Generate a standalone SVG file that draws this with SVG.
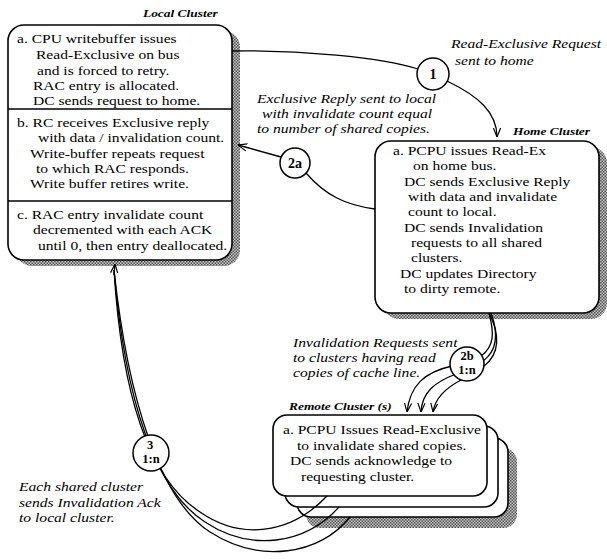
<svg xmlns="http://www.w3.org/2000/svg" width="607" height="559" viewBox="0 0 607 559">
<defs>
<pattern id="hatch" width="3" height="3" patternUnits="userSpaceOnUse">
<rect width="3" height="3" fill="#c4c4c4"/>
<rect width="1.5" height="1.5" fill="#555"/>
<rect x="1.5" y="1.5" width="1.5" height="1.5" fill="#555"/>
</pattern>
<marker id="arr" viewBox="0 0 10 10" refX="10" refY="5" markerWidth="9" markerHeight="9" orient="auto" markerUnits="userSpaceOnUse">
<path d="M0,1 L10,5 L0,9" fill="none" stroke="#000" stroke-width="1.3"/>
</marker>
</defs>
<style>
.box{fill:#fff;stroke:#000;stroke-width:1.6}
.shadow{fill:url(#hatch);stroke:none}
.body{font-family:"Liberation Serif","Times New Roman",serif;font-size:13.2px;fill:#000}
.lbl{font-family:"Liberation Serif","Times New Roman",serif;font-size:13px;font-style:italic;fill:#000}
.title{font-family:"Liberation Serif","Times New Roman",serif;font-size:11px;font-style:italic;font-weight:bold;fill:#000}
.num{font-family:"Liberation Serif","Times New Roman",serif;font-size:14px;font-weight:bold;fill:#000;text-anchor:middle}
.num2{font-family:"Liberation Serif","Times New Roman",serif;font-size:12.5px;font-weight:bold;fill:#000;text-anchor:middle}
.ln{fill:none;stroke:#000;stroke-width:1.3}
.circ{fill:#fff;stroke:#000;stroke-width:1.5}
</style>

<g id="local-cluster">
<rect class="shadow" x="16" y="31" width="224" height="235" rx="16"/>
<rect class="box" x="8" y="25" width="224" height="235" rx="16"/>
<line x1="8" y1="109" x2="232" y2="109" stroke="#000" stroke-width="1.3"/>
<line x1="8" y1="201" x2="232" y2="201" stroke="#000" stroke-width="1.3"/>
<g transform="scale(1.22,1)"><text class="title" x="117.21" y="17">Local Cluster</text></g>
<g transform="scale(1.18,1)">
<text class="body" x="14.41" y="43">a. CPU writebuffer issues</text>
<text class="body" x="30.51" y="59">Read-Exclusive on bus</text>
<text class="body" x="31.36" y="75">and is forced to retry.</text>
<text class="body" x="27.97" y="90">RAC entry is allocated.</text>
<text class="body" x="27.97" y="105">DC sends request to home.</text>
<text class="body" x="14.41" y="127">b. RC receives Exclusive reply</text>
<text class="body" x="32.20" y="142">with data / invalidation count.</text>
<text class="body" x="25.42" y="158">Write-buffer repeats request</text>
<text class="body" x="30.51" y="173">to which RAC responds.</text>
<text class="body" x="25.42" y="188">Write buffer retires write.</text>
<text class="body" x="14.41" y="219">c. RAC entry invalidate count</text>
<text class="body" x="27.97" y="234">decremented with each ACK</text>
<text class="body" x="32.20" y="250">until 0, then entry deallocated.</text>
</g>
</g>

<g id="home-cluster">
<rect class="shadow" x="383" y="147" width="224" height="172" rx="16"/>
<rect class="box" x="375" y="141" width="224" height="172" rx="16"/>
<g transform="scale(1.22,1)"><text class="title" x="420.49" y="135">Home Cluster</text></g>
<g transform="scale(1.18,1)">
<text class="body" x="333.05" y="155">a. PCPU issues Read-Ex</text>
<text class="body" x="350.00" y="170">on home bus.</text>
<text class="body" x="342.37" y="186">DC sends Exclusive Reply</text>
<text class="body" x="345.76" y="201">with data and invalidate</text>
<text class="body" x="345.76" y="216">count to local.</text>
<text class="body" x="342.37" y="232">DC sends Invalidation</text>
<text class="body" x="348.31" y="247">requests to all shared</text>
<text class="body" x="348.31" y="262">clusters.</text>
<text class="body" x="338.98" y="278">DC updates Directory</text>
<text class="body" x="342.37" y="293">to dirty remote.</text>
</g>
</g>

<g id="remote-cluster">
<rect class="shadow" x="306" y="448" width="211" height="80" rx="14"/>
<rect class="box" x="297" y="438" width="211" height="79" rx="14"/>
<rect class="box" x="285" y="426" width="213" height="81" rx="14"/>
<rect class="box" x="273" y="415" width="214" height="81" rx="14"/>
<g transform="scale(1.22,1)"><text class="title" x="236.89" y="410">Remote Cluster (s)</text></g>
<g transform="scale(1.18,1)">
<text class="body" x="239.83" y="434">a. PCPU Issues Read-Exclusive</text>
<text class="body" x="251.69" y="450">to invalidate shared copies.</text>
<text class="body" x="245.76" y="465">DC sends acknowledge to</text>
<text class="body" x="255.08" y="481">requesting cluster.</text>
</g>
</g>

<g id="connectors">
<path class="ln" d="M232,51 C300,50 380,57 418,69"/>
<path class="ln" d="M447,81 C478,96 497,112 497,137" marker-end="url(#arr)"/>
<path class="ln" d="M281,157 L238,145" marker-end="url(#arr)"/>
<path class="ln" d="M306,173 C325,195 345,205 375,209"/>
<path class="ln" d="M489,313 C494,332 495,346 481,356"/>
<path class="ln" d="M491,313 C498,332 498,350 483,361"/>
<path class="ln" d="M489,313 C500,334 500,354 484,366"/>
<path class="ln" d="M452,366 C425,372 410,385 407,412" marker-end="url(#arr)"/>
<path class="ln" d="M456,374 C435,382 422,392 421,412" marker-end="url(#arr)"/>
<path class="ln" d="M463,379 C445,388 435,398 433,412" marker-end="url(#arr)"/>
<path class="ln" d="M114,270 C122,400 150,480 200,512 C240,540 290,535 327,496"/>
<path class="ln" d="M114,270 C125,400 155,490 205,522 C250,552 305,545 339,507"/>
<path class="ln" d="M114,270 C128,400 160,500 210,532 C260,564 320,555 350,517"/>
<path class="ln" d="M114,275 L115,264" marker-end="url(#arr)"/>
</g>

<g id="step-1">
<circle class="circ" cx="433" cy="74" r="16"/>
<text class="num" x="433" y="79">1</text>
<g transform="scale(1.2,1)">
<text class="lbl" x="375.83" y="48">Read-Exclusive Request</text>
<text class="lbl" x="379.17" y="65">sent to home</text>
</g>
</g>

<g id="step-2a">
<circle class="circ" cx="295" cy="163" r="15"/>
<text class="num" x="295" y="168">2a</text>
<g transform="scale(1.2,1)">
<text class="lbl" x="214.17" y="103">Exclusive Reply sent to local</text>
<text class="lbl" x="218.33" y="118">with invalidate count equal</text>
<text class="lbl" x="214.17" y="133">to number of shared copies.</text>
</g>
</g>

<g id="step-2b">
<circle class="circ" cx="467" cy="364" r="17"/>
<text class="num2" x="467" y="360">2b</text>
<text class="num2" x="467" y="374">1:n</text>
<g transform="scale(1.2,1)">
<text class="lbl" x="244.17" y="347">Invalidation Requests sent</text>
<text class="lbl" x="244.17" y="362">to clusters having read</text>
<text class="lbl" x="244.17" y="377">copies of cache line.</text>
</g>
</g>

<g id="step-3">
<circle class="circ" cx="151" cy="453" r="18"/>
<text class="num2" x="150" y="449">3</text>
<text class="num2" x="151" y="463">1:n</text>
<g transform="scale(1.2,1)">
<text class="lbl" x="15.83" y="491">Each shared cluster</text>
<text class="lbl" x="15.83" y="507">sends Invalidation Ack</text>
<text class="lbl" x="15.83" y="522">to local cluster.</text>
</g>
</g>
</svg>
